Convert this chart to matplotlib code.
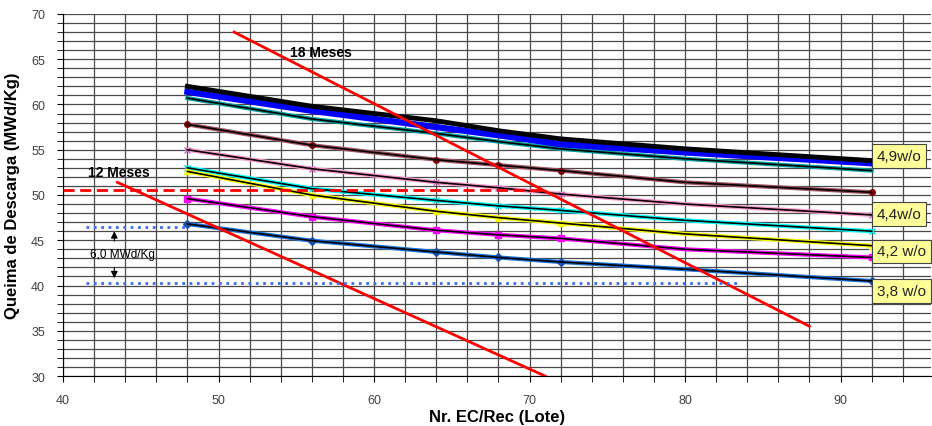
import matplotlib.pyplot as plt
from matplotlib.ticker import MultipleLocator

plt.rcParams['font.family'] = ['Liberation Sans', 'DejaVu Sans']

# lote sizes where the curves were evaluated
lotes = [48, 56, 64, 68, 72, 80, 92]

queima_preto = [62.0, 59.8, 58.2, 57.1, 56.2, 55.1, 53.8]
queima_azul = [61.4, 59.3, 57.5, 56.6, 55.6, 54.7, 53.5]
queima_verde = [60.7, 58.4, 56.8, 55.9, 55.1, 54.0, 52.7]
queima_marrom = [57.8, 55.5, 53.9, 53.3, 52.7, 51.4, 50.3]
queima_rosa = [55.0, 52.9, 51.4, 50.8, 50.1, 49.0, 47.8]
queima_ciano = [53.0, 50.7, 49.4, 48.8, 48.3, 47.2, 46.0]
queima_amarelo = [52.6, 50.0, 48.2, 47.5, 46.9, 45.7, 44.4]
queima_magenta = [49.6, 47.6, 46.1, 45.6, 45.2, 44.0, 43.1]
queima_azul_esc = [46.8, 44.95, 43.7, 43.1, 42.6, 41.8, 40.5]

# ciclo de 18 e 12 meses
meses18_x = [51.0, 88.0]
meses18_y = [68.0, 35.5]
meses12_x = [43.5, 71.0]
meses12_y = [51.4, 30.0]

limite_x = [40.0, 71.0]
limite_y = [50.6, 50.6]
pontilhado_sup_x = [41.5, 48.0]
pontilhado_sup_y = [46.45, 46.45]
pontilhado_inf_x = [41.5, 83.5]
pontilhado_inf_y = [40.25, 40.25]

rotulos = ['4,9w/o', '4,4w/o', '4,2 w/o', '3,8 w/o']
rotulos_y = [54.3, 47.9, 43.8, 39.4]

fig = plt.figure(figsize=(9.32, 4.27), dpi=100)
ax = fig.add_axes([0.0676, 0.117, 0.931, 0.848])

ax.set_xlim(40, 95.8)
ax.set_ylim(30, 70)
ax.xaxis.set_major_locator(MultipleLocator(10))
ax.xaxis.set_minor_locator(MultipleLocator(2))
ax.yaxis.set_major_locator(MultipleLocator(5))
ax.yaxis.set_minor_locator(MultipleLocator(1))
ax.grid(which='both', color='#4a4a4a', linewidth=0.9)
ax.set_axisbelow(True)
for s in ['top', 'right']:
    ax.spines[s].set_visible(False)
ax.tick_params(which='both', colors='black', labelcolor='#404040', labelsize=9, direction='out')
ax.tick_params(which='major', length=4, pad=9)
ax.tick_params(which='minor', length=4)

marks = [0, 1, 2, 3, 4, 6]
series = [
    (queima_verde, '#00a0a0', None, '#00a0a0'),
    (queima_marrom, '#a05060', 'o', '#800000'),
    (queima_rosa, '#ff99cc', 'x', '#cc66cc'),
    (queima_ciano, '#00ffff', 'x', '#00dddd'),
    (queima_amarelo, '#ffff00', '^', '#ffff00'),
    (queima_magenta, '#ff00ff', 's', '#ff00ff'),
    (queima_azul_esc, '#1a6fd6', 'D', '#1a4fb0'),
]
for vals, cor, mk, mcor in series:
    ax.plot(lotes, vals, color=cor, lw=3.0, marker=mk, markersize=4,
            markerfacecolor=mcor, markeredgecolor=mcor, markevery=marks, zorder=3)
    ax.plot(lotes, vals, color='black', lw=1.2, zorder=4)

ax.plot(lotes, queima_azul, color='#0000ff', lw=4.5, zorder=3)
ax.plot(lotes, queima_preto, color='black', lw=3.5, zorder=4)

ax.plot(meses18_x, meses18_y, color='#ff0000', lw=2, zorder=5)
ax.plot(meses12_x, meses12_y, color='#ff0000', lw=2, zorder=5)
ax.plot(limite_x, limite_y, color='#ff0000', lw=2, dashes=(4, 2), zorder=5)
ax.plot(pontilhado_sup_x, pontilhado_sup_y, color='#3a6df0', lw=2, ls=':', zorder=5)
ax.plot(pontilhado_inf_x, pontilhado_inf_y, color='#3a6df0', lw=2, ls=':', zorder=5)

ax.text(54.6, 65.8, '18 Meses', fontsize=10, fontweight='bold', va='center', zorder=6)
ax.text(41.6, 52.5, '12 Meses', fontsize=10, fontweight='bold', va='center', zorder=6)
ax.text(43.8, 43.5, '6,0 MWd/Kg', fontsize=8.5, ha='center', va='center', zorder=6)
ax.annotate('', xy=(43.3, 46.3), xytext=(43.3, 44.6),
            arrowprops=dict(arrowstyle='-|>', color='black', lw=0.8, mutation_scale=10))
ax.annotate('', xy=(43.3, 40.5), xytext=(43.3, 42.3),
            arrowprops=dict(arrowstyle='-|>', color='black', lw=0.8, mutation_scale=10))

for txt, yv in zip(rotulos, rotulos_y):
    ax.text(92.35, yv, txt, fontsize=11, va='center', ha='left', color='#222222', zorder=7,
            bbox=dict(boxstyle='square,pad=0.3', facecolor='#ffff99', edgecolor='#444444', lw=0.8))

ax.set_xlabel('Nr. EC/Rec (Lote)', fontsize=12, fontweight='bold', labelpad=2)
ax.set_ylabel('Queima de Descarga (MWd/Kg)', fontsize=12, fontweight='bold', labelpad=8)

fig.savefig('out.png', dpi=100)
